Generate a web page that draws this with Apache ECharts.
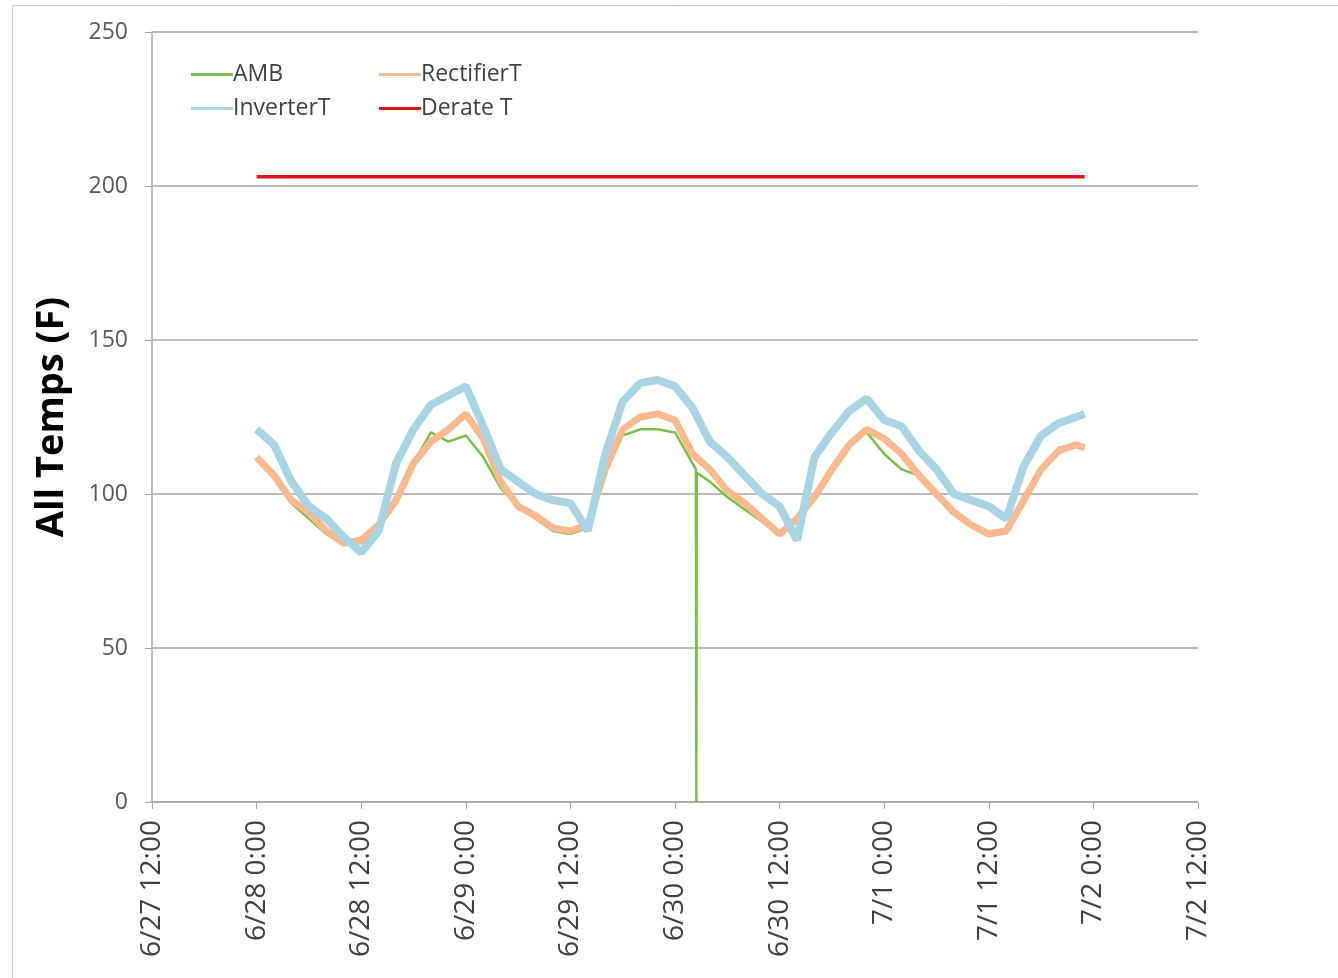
<!DOCTYPE html>
<html>
<head>
<meta charset="utf-8">
<script src="https://cdn.jsdelivr.net/npm/echarts@6/dist/echarts.min.js"></script>
<style>
html, body { margin: 0; padding: 0; background: #fff; }
#chart { width: 1338px; height: 978px; }
</style>
</head>
<body>
<div id="chart"></div>
<script>
// x values are hours counted from 6/27 12:00
var tickLabels = ['6/27 12:00', '6/28 0:00', '6/28 12:00', '6/29 0:00', '6/29 12:00', '6/30 0:00',
	'6/30 12:00', '7/1 0:00', '7/1 12:00', '7/2 0:00', '7/2 12:00'];

var hours = [12, 14, 16, 18, 20, 22, 24, 26, 28, 30, 32, 34, 36, 38, 40, 42, 44, 46, 48, 50,
	52, 54, 56, 58, 60, 62, 64, 66, 68, 70, 72, 74, 76, 78, 80, 82, 84, 86, 88, 90,
	92, 94, 96, 98, 100, 102, 104, 106, 107];

var inverterT = [121, 116, 104, 96, 92, 86, 81, 88, 110, 121, 129, 132, 135, 122, 108, 104, 100, 98, 97, 88,
	113, 130, 136, 137, 135, 128, 117, 112, 106, 100, 96, 85, 112, 120, 127, 131, 124, 122, 114, 108,
	100, 98, 96, 92, 109, 119, 123, 125, 126];

var rectifierT = [112, 106, 98, 94, 88, 84, 85, 90, 98, 110, 117, 121, 126, 118, 104, 96, 93, 89, 88, 90,
	108, 121, 125, 126, 124, 113, 108, 101, 97, 92, 87, 92, 99, 108, 116, 121, 118, 113, 106, 100,
	94, 90, 87, 88, 98, 108, 114, 116, 115];

var ambHours = [12, 14, 16, 18, 20, 22, 24, 26, 28, 30, 32, 34, 36, 38, 40, 42, 44, 46, 48, 50,
	52, 54, 56, 58, 60, 62, 62.4, 62.45, 62.5, 64, 66, 68, 70, 72, 74, 76, 78, 80, 82, 84, 86, 88, 90,
	92, 94, 96, 98, 100, 102, 104, 106, 107];

var amb = [111, 105, 97, 92, 87, 84, 84, 89, 97, 110, 120, 117, 119, 112, 102, 96, 92, 88, 87, 89,
	107, 119, 121, 121, 120, 110, 108, 0, 107, 104, 99, 95, 91, 87, 91, 98, 108, 117, 120, 113, 108, 106, 100,
	94, 90, 87, 88, 97, 107, 115, 116, 115];

var derateHours = [12, 107];
var derateT = [203, 203];

function pairs(xs, ys) {
	return xs.map(function (x, i) { return [x, ys[i]]; });
}

var font = '"Open Sans", sans-serif';

function legendAt(name, left, top) {
	return {
		data: [name],
		left: left,
		top: top,
		icon: 'rect',
		itemWidth: 42,
		itemHeight: 3,
		itemGap: 0,
		textStyle: { fontFamily: font, fontSize: 23, color: '#404040', padding: [0, 0, 0, -5] }
	};
}

var chart = echarts.init(document.getElementById('chart'));
chart.setOption({
	animation: false,
	backgroundColor: '#fff',
	graphic: [{
		type: 'rect',
		shape: { x: 12.5, y: 5.5, width: 1340, height: 1000 },
		style: { fill: 'none', stroke: '#c8c8c8', lineWidth: 1 },
		silent: true
	}],
	legend: [
		legendAt('AMB', 186, 58),
		legendAt('RectifierT', 374, 58),
		legendAt('InverterT', 186, 92),
		legendAt('Derate T', 374, 92)
	],
	grid: { left: 152, right: 140, top: 32, bottom: 176 },
	xAxis: {
		type: 'value',
		min: 0,
		max: 120,
		interval: 12,
		splitLine: { show: false },
		axisLine: { onZero: false, lineStyle: { color: '#a6a6a6', width: 1.5 } },
		axisTick: { show: true, length: 7, lineStyle: { color: '#a6a6a6' } },
		axisLabel: {
			rotate: 90,
			margin: 18,
			fontFamily: font,
			fontSize: 28,
			color: '#404040',
			formatter: function (v) { return tickLabels[Math.round(v / 12)]; }
		}
	},
	yAxis: {
		type: 'value',
		min: 0,
		max: 250,
		interval: 50,
		name: 'All Temps (F)',
		nameLocation: 'middle',
		nameGap: 81,
		nameTextStyle: { fontFamily: font, fontSize: 38, fontWeight: 'bold', color: '#000' },
		axisLine: { show: true, lineStyle: { color: '#a6a6a6', width: 1.5 } },
		axisTick: { show: true, length: 7, lineStyle: { color: '#a6a6a6' } },
		splitLine: { lineStyle: { color: '#a6a6a6', width: 1.5 } },
		axisLabel: { margin: 24, fontFamily: font, fontSize: 23, color: '#595959' }
	},
	series: [{
		name: 'AMB',
		type: 'line',
		showSymbol: false,
		color: '#76c043',
		lineStyle: { width: 2.5 },
		data: pairs(ambHours, amb)
	}, {
		name: 'RectifierT',
		type: 'line',
		showSymbol: false,
		color: '#f9b98c',
		lineStyle: { width: 7 },
		data: pairs(hours, rectifierT)
	}, {
		name: 'InverterT',
		type: 'line',
		showSymbol: false,
		color: '#a8d4e6',
		lineStyle: { width: 8 },
		data: pairs(hours, inverterT)
	}, {
		name: 'Derate T',
		type: 'line',
		showSymbol: false,
		color: '#e3131b',
		lineStyle: { width: 3.5 },
		data: pairs(derateHours, derateT)
	}]
});
</script>
</body>
</html>
